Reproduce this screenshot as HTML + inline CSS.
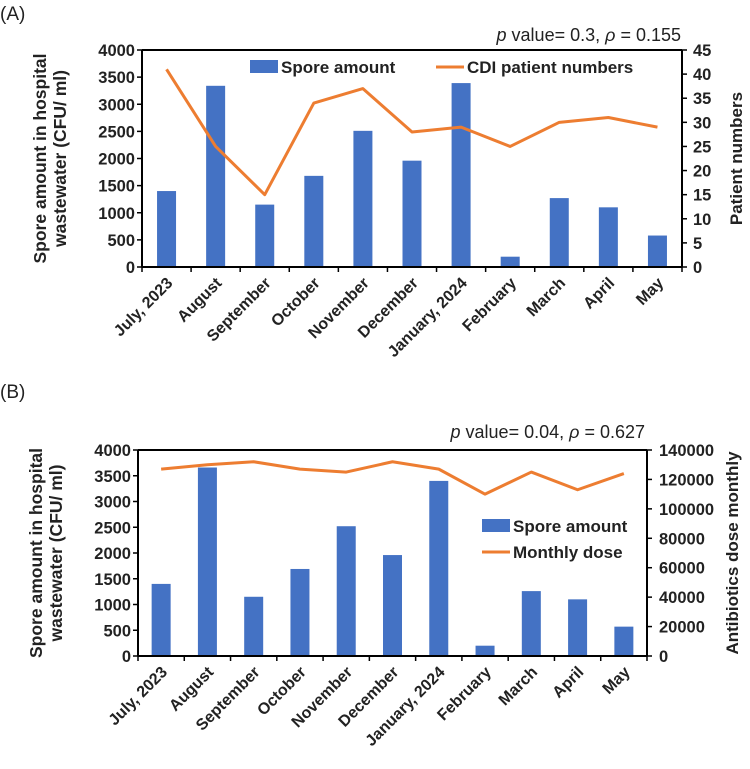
<!DOCTYPE html>
<html><head><meta charset="utf-8"><style>
body{margin:0;background:#fff;width:750px;height:764px;overflow:hidden;font-family:"Liberation Sans",sans-serif}
svg text{font-family:"Liberation Sans",sans-serif}
</style></head><body>
<svg id="svg" width="750" height="764"></svg>
<script>
const months = ["July, 2023","August","September","October","November","December","January, 2024","February","March","April","May"];
const sporesA = [1400,3340,1150,1680,2510,1960,3390,190,1270,1100,580];
const cdiA = [41,25,15,34,37,28,29,25,30,31,29];
const sporesB = [1400,3660,1150,1690,2520,1960,3400,200,1260,1100,570];
const doseB = [127000,130000,132000,127000,125000,132000,127000,110000,125000,113000,124000];
const leftTicks = [0,500,1000,1500,2000,2500,3000,3500,4000];
const rightTicksA = [0,5,10,15,20,25,30,35,40,45];
const rightTicksB = [0,20000,40000,60000,80000,100000,120000,140000];

const svg = document.getElementById('svg');
const NS = "http://www.w3.org/2000/svg";
function mk(tag, attrs, parent){const e=document.createElementNS(NS,tag);for(const k in attrs)e.setAttribute(k,attrs[k]);(parent||svg).appendChild(e);return e;}
function txt(s, attrs, parent){const e=mk('text',attrs,parent);e.textContent=s;return e;}

function chart(o){
  const g = mk('g',{});
  
  
  const {x0,x1,yTop,yBot} = o;
  const yL = v => yBot - v/4000*(yBot-yTop);
  const yR = v => yBot - v/o.rMax*(yBot-yTop);
  const step = (x1-x0)/months.length;
  const xc = i => x0 + step*(i+0.5);
  o.spores.forEach((v,i)=>{
    const b = mk('rect',{x:xc(i)-9.5,y:yL(v),width:19,height:yBot-yL(v),fill:'#4472c4'},g);
    
    
  });
  const pts = o.line.map((v,i)=>xc(i)+','+yR(v)).join(' ');
  const ln = mk('polyline',{points:pts,fill:'none',stroke:'#ed7d31','stroke-width':3,'stroke-linejoin':'round'},g);
  
  
  mk('line',{x1:x0,y1:yTop,x2:x1,y2:yTop,stroke:'#000','stroke-width':2},g);
  mk('line',{x1:x0,y1:yBot,x2:x1,y2:yBot,stroke:'#000','stroke-width':2},g);
  mk('line',{x1:x0,y1:yTop,x2:x0,y2:yBot,stroke:'#000','stroke-width':2},g);
  mk('line',{x1:x1,y1:yTop,x2:x1,y2:yBot,stroke:'#000','stroke-width':2},g);
  leftTicks.forEach(v=>{
    mk('line',{x1:x0-5,y1:yL(v),x2:x0,y2:yL(v),stroke:'#000','stroke-width':1.5},g);
    txt(String(v),{x:x0-7,y:yL(v)+6,'text-anchor':'end','font-size':16.5,'font-weight':'bold',fill:'#222'},g);
  });
  o.rTicks.forEach(v=>{
    mk('line',{x1:x1,y1:yR(v),x2:x1+5,y2:yR(v),stroke:'#000','stroke-width':1.5},g);
    txt(String(v),{x:x1+o.rOff,y:yR(v)+6,'text-anchor':'start','font-size':16.5,'font-weight':'bold',fill:'#222'},g);
  });
  for(let i=0;i<=months.length;i++) mk('line',{x1:x0+step*i,y1:yBot,x2:x0+step*i,y2:yBot+5,stroke:'#000','stroke-width':1.5},g);
  months.forEach((m,i)=>{
    const x=xc(i)+7, y=yBot+17;
    const t = txt(m,{x:x,y:y,'text-anchor':'end','font-size':16,'font-weight':'bold',fill:'#222',transform:`rotate(-45 ${x} ${y})`},g);
    
    
  });
  const cy=(yTop+yBot)/2;
  const lt = txt('Spore amount in hospital',{x:o.lx,y:cy,'text-anchor':'middle','font-size':17.5,'font-weight':'bold',fill:'#222',transform:`rotate(-90 ${o.lx} ${cy})`},g);
  
  
  txt('wastewater (CFU/ ml)',{x:o.lx+20,y:cy,'text-anchor':'middle','font-size':17.5,'font-weight':'bold',fill:'#222',transform:`rotate(-90 ${o.lx+20} ${cy})`},g);
  const rt = txt(o.rTitle,{x:o.rx,y:cy,'text-anchor':'middle','font-size':17,'font-weight':'bold',fill:'#222',transform:`rotate(-90 ${o.rx} ${cy})`},g);
  
  
  const pv = mk('text',{x:o.px,y:o.py,'text-anchor':'end','font-size':18,fill:'#222'},g);
  pv.innerHTML = '<tspan font-style="italic">p</tspan> value= '+o.p+', <tspan font-style="italic">ρ</tspan> = '+o.rho;
  
  
  return g;
}

const gA = chart({name:'chart-a',x0:142,x1:682,yTop:50,yBot:267,spores:sporesA,line:cdiA,rMax:45,rTicks:rightTicksA,rOff:11,
  lineName:'cdi-line',rTitle:'Patient numbers',lx:46,rx:742,px:681,py:41,p:'0.3',rho:'0.155'});
const gB = chart({name:'chart-b',x0:138,x1:647,yTop:450,yBot:656,spores:sporesB,line:doseB,rMax:140000,rTicks:rightTicksB,rOff:12,
  lineName:'dose-line',rTitle:'Antibiotics dose monthly',lx:42,rx:738,px:645,py:438,p:'0.04',rho:'0.627'});

function legend(g,items){
  items.forEach(it=>{
    const lg = mk('g',{},g);
    
    
    if(it.bar) mk('rect',{x:it.x,y:it.y-7,width:28,height:13,fill:'#4472c4'},lg);
    else mk('line',{x1:it.x,y1:it.y,x2:it.x+28,y2:it.y,stroke:'#ed7d31','stroke-width':3},lg);
    txt(it.t,{x:it.x+31,y:it.y+6,'font-size':17,'font-weight':'bold',fill:'#222'},lg);
  });
}
legend(gA,[{bar:true,x:250,y:67,t:'Spore amount'},{bar:false,x:436,y:67,t:'CDI patient numbers'}]);
legend(gB,[{bar:true,x:482,y:526,t:'Spore amount'},{bar:false,x:482,y:552,t:'Monthly dose'}]);

const la = txt('(A)',{x:0,y:20,'font-size':19,fill:'#222'});  
const lb = txt('(B)',{x:0,y:398,'font-size':19,fill:'#222'});  
</script>
</body></html>
